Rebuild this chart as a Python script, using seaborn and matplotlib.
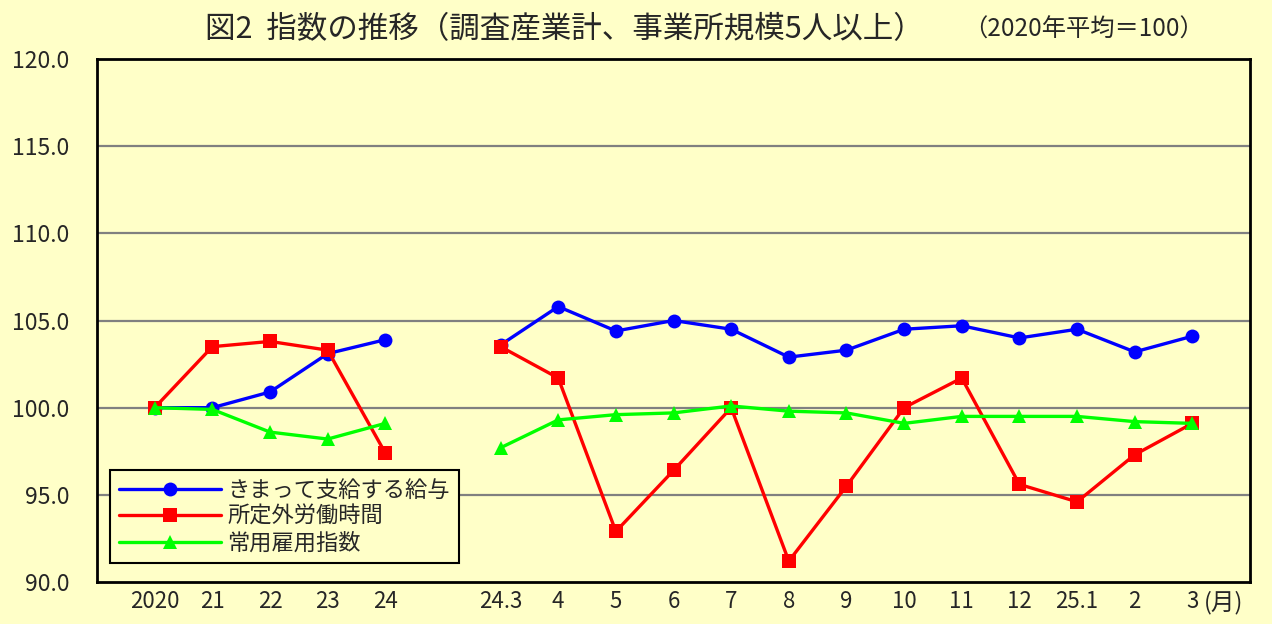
import numpy as np
import pandas as pd
import matplotlib
matplotlib.use("Agg")
import matplotlib.pyplot as plt
import seaborn as sns

# x categories (blank slot between annual and monthly data)
categories = ["2020", "21", "22", "23", "24", "", "24.3", "4", "5", "6", "7",
              "8", "9", "10", "11", "12", "25.1", "2", "3"]

series_names = ["きまって支給する給与", "所定外労働時間", "常用雇用指数"]

wages = [100.0, 100.0, 100.9, 103.1, 103.9, np.nan, 103.6, 105.8, 104.4, 105.0,
         104.5, 102.9, 103.3, 104.5, 104.7, 104.0, 104.5, 103.2, 104.1]
overtime = [100.0, 103.5, 103.8, 103.3, 97.4, np.nan, 103.5, 101.7, 92.9, 96.4,
            100.0, 91.2, 95.5, 100.0, 101.7, 95.6, 94.6, 97.3, 99.1]
employment = [100.0, 99.9, 98.6, 98.2, 99.1, np.nan, 97.7, 99.3, 99.6, 99.7,
              100.1, 99.8, 99.7, 99.1, 99.5, 99.5, 99.5, 99.2, 99.1]

y_ticks = [90, 95, 100, 105, 110, 115, 120]

colors = {series_names[0]: "#0000FF", series_names[1]: "#FF0000", series_names[2]: "#00FF00"}
markers = {series_names[0]: "o", series_names[1]: "s", series_names[2]: "^"}

rows = []
for name, vals in zip(series_names, [wages, overtime, employment]):
    for i, v in enumerate(vals):
        if np.isnan(v):
            continue
        rows.append({"x": i, "value": v, "series": name, "seg": 0 if i < 5 else 1})
df = pd.DataFrame(rows)

sns.set_style("white")
plt.rcParams["font.family"] = ["Noto Sans CJK JP", "DejaVu Sans"]

bg = "#FFFFC8"
fig = plt.figure(figsize=(12.72, 6.24), dpi=100, facecolor=bg)
ax = fig.add_axes([0.0763, 0.0673, 0.9064, 0.8381])
ax.set_facecolor(bg)

for y in y_ticks[1:-1]:
    ax.axhline(y, color="#808080", lw=1.6, zorder=0)

sns.lineplot(data=df, x="x", y="value", hue="series", style="series",
             units="seg", estimator=None, palette=colors, markers=markers,
             dashes=False, linewidth=2.4, markersize=10, markeredgewidth=0,
             hue_order=series_names, style_order=series_names, ax=ax)

ax.set_xlim(-1, 19)
ax.set_ylim(90, 120)
ax.set_yticks(y_ticks)
ax.set_yticklabels([f"{v:.1f}" for v in y_ticks], fontsize=16.5)
ax.set_xticks(range(len(categories)))
ax.set_xticklabels(categories, fontsize=16)
ax.tick_params(length=0, pad=6)
ax.tick_params(axis="y", pad=20)
ax.set_xlabel("")
ax.set_ylabel("")
for s in ax.spines.values():
    s.set_color("black")
    s.set_linewidth(2)

ax.text(18.2, 88.8, "(月)", fontsize=17, ha="left", va="center")

leg = ax.legend(loc="lower left", bbox_to_anchor=(0.011, 0.036), fontsize=16,
                frameon=True, fancybox=False, edgecolor="black", facecolor=bg,
                borderpad=0.4, labelspacing=0.15, handlelength=4.6,
                handletextpad=0.3, borderaxespad=0)
leg.get_frame().set_linewidth(1.5)
leg.get_frame().set_alpha(1)

fig.text(0.161, 0.952, "図2  指数の推移（調査産業計、事業所規模5人以上）",
         fontsize=22, ha="left", va="center")
fig.text(0.757, 0.952, "（2020年平均＝100）", fontsize=17.5, ha="left", va="center")

fig.savefig("out.png", dpi=100, facecolor=bg)
